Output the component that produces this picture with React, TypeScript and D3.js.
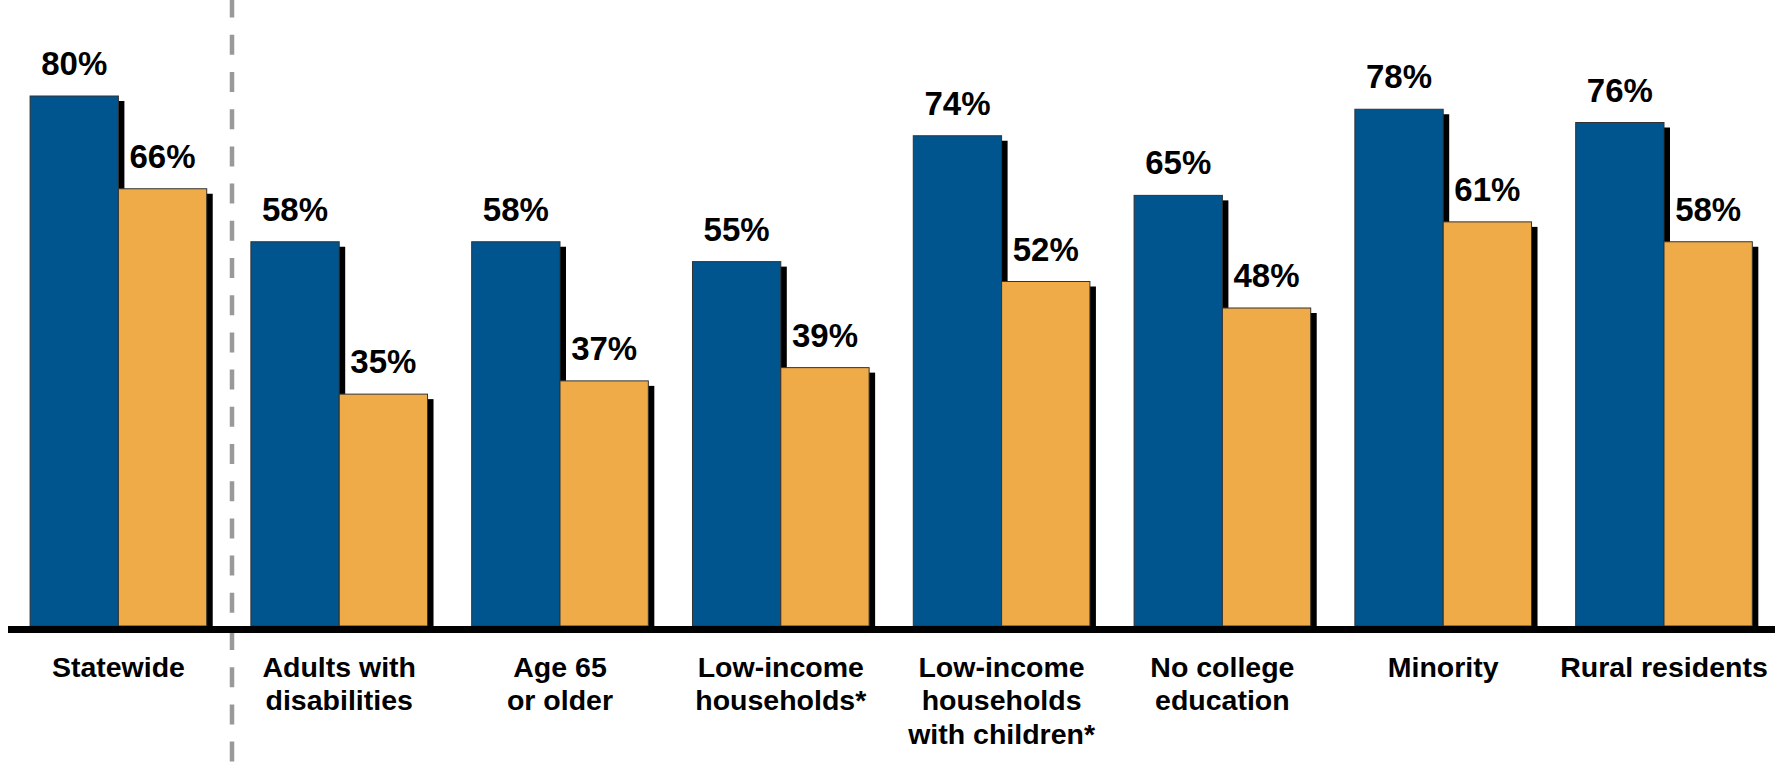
import React from "react";
import * as d3 from "d3";

const categories: string[][] = [
  ["Statewide"],
  ["Adults with", "disabilities"],
  ["Age 65", "or older"],
  ["Low-income", "households*"],
  ["Low-income", "households", "with children*"],
  ["No college", "education"],
  ["Minority"],
  ["Rural residents"],
];
const seriesBlue: number[] = [80, 58, 58, 55, 74, 65, 78, 76];
const seriesOrange: number[] = [66, 35, 37, 39, 52, 48, 61, 58];
const seriesKeys = ["blue", "orange"];

const W = 1789;
const H = 764;
const BLUE = "#01558F";
const ORANGE = "#EFAB48";
const FONT = "'Liberation Sans', Arial, sans-serif";

export default function App() {
  const x0 = d3
    .scaleBand<number>()
    .domain(d3.range(categories.length))
    .range([8, 1774.4])
    .paddingInner(0.2)
    .paddingOuter(0.1);
  const x1 = d3.scaleBand<string>().domain(seriesKeys).range([0, x0.bandwidth()]);
  const y = d3.scaleLinear().domain([0, 80]).range([626, 96]);
  const baseline = y(0);
  const sx = 6;
  const sy = 5;

  const bars = categories.map((_, i) => [
    { key: "blue", v: seriesBlue[i], color: BLUE },
    { key: "orange", v: seriesOrange[i], color: ORANGE },
  ]);

  return (
    <svg
      width={W}
      height={H}
      style={{ position: "absolute", left: 0, top: 0, background: "#fff" }}
      fontFamily={FONT}
    >
      <rect x={0} y={0} width={W} height={H} fill="#fff" />
      {/* dashed separator */}
      <line
        x1={232}
        x2={232}
        y1={0}
        y2={H}
        stroke="#999"
        strokeWidth={4.5}
        strokeDasharray="20,17.2"
        strokeDashoffset={2.4}
      />
      {/* shadows */}
      {bars.map((g, i) =>
        g.map((b) => (
          <rect
            key={`s${i}${b.key}`}
            x={(x0(i) as number) + (x1(b.key) as number) + sx}
            y={y(b.v) + sy}
            width={x1.bandwidth()}
            height={baseline - y(b.v) - sy + 1}
            fill="#000"
          />
        ))
      )}
      {/* bars */}
      {bars.map((g, i) =>
        g.map((b) => (
          <rect
            key={`b${i}${b.key}`}
            x={(x0(i) as number) + (x1(b.key) as number)}
            y={y(b.v)}
            width={x1.bandwidth()}
            height={baseline - y(b.v)}
            fill={b.color}
            stroke="#333"
            strokeWidth={1}
          />
        ))
      )}
      {/* value labels */}
      {bars.map((g, i) =>
        g.map((b) => (
          <text
            key={`t${i}${b.key}`}
            x={(x0(i) as number) + (x1(b.key) as number) + x1.bandwidth() / 2}
            y={y(b.v) - 21}
            textAnchor="middle"
            fontSize={33}
            fontWeight="bold"
            fill="#000"
          >
            {b.v}%
          </text>
        ))
      )}
      {/* axis */}
      <line x1={8} x2={1775} y1={629.5} y2={629.5} stroke="#000" strokeWidth={7} />
      {/* category labels */}
      {categories.map((lines, i) => (
        <text
          key={`c${i}`}
          x={(x0(i) as number) + x0.bandwidth() / 2}
          y={677}
          textAnchor="middle"
          fontSize={28.5}
          fontWeight="bold"
          fill="#000"
        >
          {lines.map((l, j) => (
            <tspan key={j} x={(x0(i) as number) + x0.bandwidth() / 2} dy={j === 0 ? 0 : 33.3}>
              {l}
            </tspan>
          ))}
        </text>
      ))}
    </svg>
  );
}
